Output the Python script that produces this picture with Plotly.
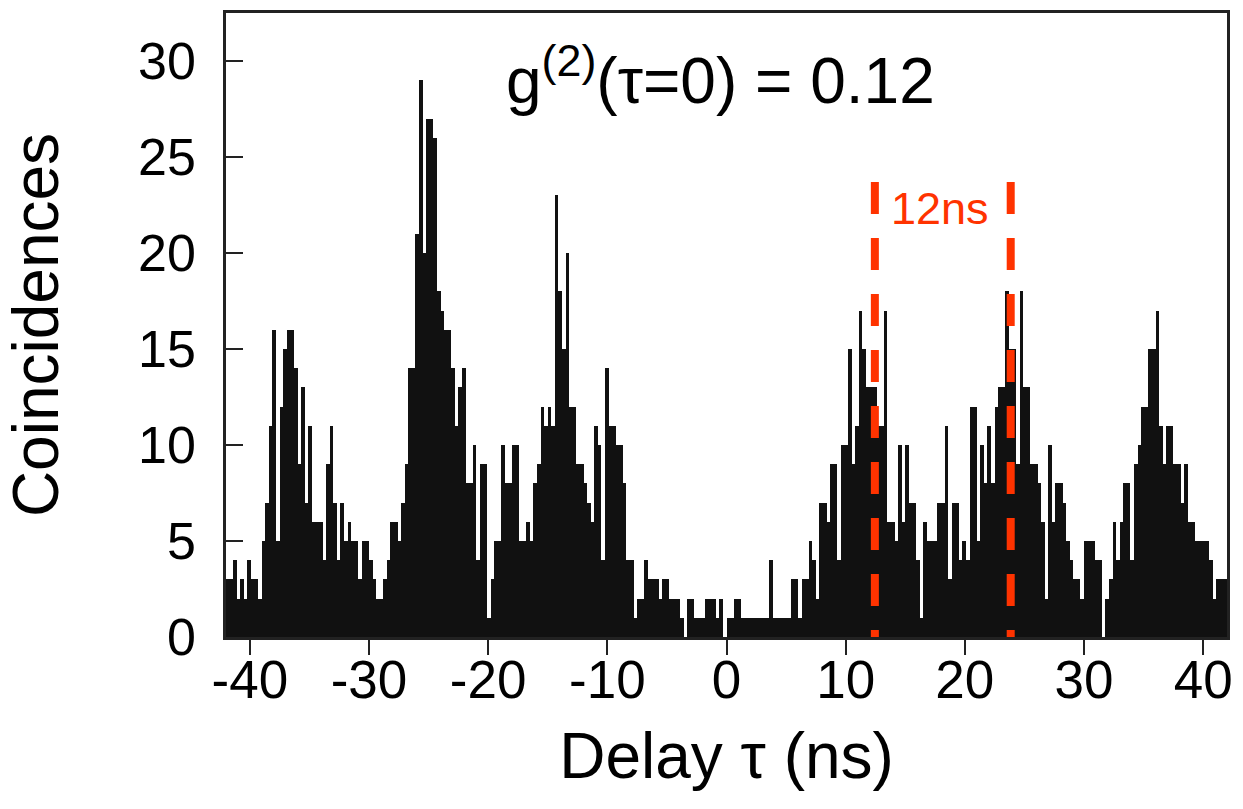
import plotly.graph_objects as go
import numpy as np


# histogram bins (ns)
bin_start = -42.0
bin_width = 0.3

# coincidence counts per bin from left to right
counts_m42_m30 = [3, 3, 4, 2, 3, 2, 4, 3, 3, 2, 5, 7, 11, 16, 5, 12, 15, 16, 16, 14,
                  9, 13, 7, 11, 6, 6, 6, 4, 9, 11, 7, 4, 7, 5, 6, 5, 5, 3, 5]
counts_m30_m18 = [5, 4, 3, 2, 2, 3, 4, 6, 6, 5, 7, 9, 14, 14, 21, 29, 20, 27, 27, 26,
                  18, 17, 16, 16, 14, 11, 13, 14, 8, 8, 10, 4, 9, 9, 1, 3, 5, 5, 10, 8]
counts_m18_m6 = [8, 10, 10, 5, 5, 6, 5, 8, 9, 12, 11, 12, 11, 23, 18, 15, 20, 12, 12, 9,
                 9, 8, 7, 6, 11, 10, 4, 14, 11, 11, 10, 10, 8, 4, 4, 1, 2, 2, 4, 3]
counts_m6_p6 = [3, 3, 2, 3, 3, 2, 2, 2, 1, 0, 2, 2, 1, 1, 1, 2, 2, 2, 1, 2,
                0, 1, 1, 2, 2, 1, 1, 1, 1, 1, 1, 1, 1, 4, 1, 1, 1, 1, 1, 3]
counts_p6_p18 = [3, 1, 3, 3, 5, 4, 2, 7, 7, 6, 9, 9, 4, 10, 10, 15, 9, 11, 17, 15,
                 13, 13, 13, 11, 11, 17, 6, 6, 5, 10, 6, 10, 7, 7, 4, 1, 6, 5, 5, 5, 7]
counts_p18_p30 = [7, 11, 3, 7, 7, 4, 5, 4, 12, 12, 5, 10, 8, 11, 8, 12, 13, 13, 18, 15,
                  15, 9, 18, 13, 13, 9, 9, 8, 6, 2, 10, 6, 8, 8, 7, 5, 4, 3, 3, 2]
counts_p30_p42 = [5, 5, 5, 4, 4, 0, 2, 3, 6, 4, 6, 8, 8, 4, 9, 10, 12, 12, 15, 15,
                  17, 11, 9, 11, 11, 9, 9, 7, 9, 6, 6, 5, 5, 5, 5, 4, 2, 3, 3, 3]

x_tick_vals = [-40, -30, -20, -10, 0, 10, 20, 30, 40]
x_tick_text = ["-40", "-30", "-20", "-10", "0", "10", "20", "30", "40"]

# pulse separation markers (ns)
marker_lines = [12.45, 23.85]
marker_top = 23.7

g2_text = "g<sup>(2)</sup>(\u03c4=0) = 0.12"
sep_text = "12ns"

FONT = "Liberation Sans, Arial, sans-serif"
RED = "#ff3300"


def get_data():
    counts = (counts_m42_m30 + counts_m30_m18 + counts_m18_m6 + counts_m6_p6
              + counts_p6_p18 + counts_p18_p30 + counts_p30_p42)
    centers = bin_start + bin_width * (np.arange(len(counts)) + 0.5)
    return centers, counts


def create_figure():
    fig = go.Figure().update_layout(template="simple_white")
    fig.update_layout(width=1243, height=809)
    return fig


def plot(fig, x, y):
    fig.add_trace(go.Bar(x=x, y=y, width=bin_width,
                         marker=dict(color="#111111", line_width=0),
                         showlegend=False))


def touch_up(fig):
    fig.update_layout(margin=dict(t=10, b=172, l=226, r=15),
                      font_family=FONT, font_color="black",
                      bargap=0, paper_bgcolor="white", plot_bgcolor="white")

    fig.update_xaxes(range=[-42, 42], tickvals=x_tick_vals, ticktext=x_tick_text,
                     ticks="outside", ticklen=15, tickwidth=2, tickcolor="#222",
                     tickfont=dict(size=53), ticklabelstandoff=-20,
                     showline=True, mirror=True,
                     linecolor="#222", linewidth=2.5, showgrid=False, zeroline=False,
                     title=dict(text="Delay \u03c4 (ns)", font=dict(size=64), standoff=25))

    fig.update_yaxes(range=[0, 32.5], tick0=0, dtick=5,
                     ticks="inside", ticklen=17, tickwidth=2, tickcolor="#222",
                     tickfont=dict(size=52), ticklabelstandoff=17,
                     showline=True, mirror=True,
                     linecolor="#222", linewidth=2.5, showgrid=False, zeroline=False,
                     title=dict(text="Coincidences", font=dict(size=64), standoff=59))

    for xv in marker_lines:
        fig.add_shape(type="line", x0=xv, x1=xv, y0=marker_top, y1=0,
                      xref="x", yref="y", layer="above", opacity=1,
                      line=dict(color=RED, width=8, dash="32px,24px"))

    fig.add_annotation(x=-0.5, y=29.2, text=g2_text, showarrow=False,
                       xanchor="center", yanchor="middle",
                       font=dict(size=64, color="black"))

    fig.add_annotation(x=17.9, y=22.3, text=sep_text, showarrow=False,
                       xanchor="center", yanchor="middle",
                       font=dict(size=45, color=RED))


def main():
    x, y = get_data()
    fig = create_figure()
    plot(fig, x, y)
    touch_up(fig)
    # page has a default body margin; drop it so the figure sits at 0,0
    fig.write_html("out.html", config={"displayModeBar": False},
                   post_script="document.body.style.margin='0px';")


main()
